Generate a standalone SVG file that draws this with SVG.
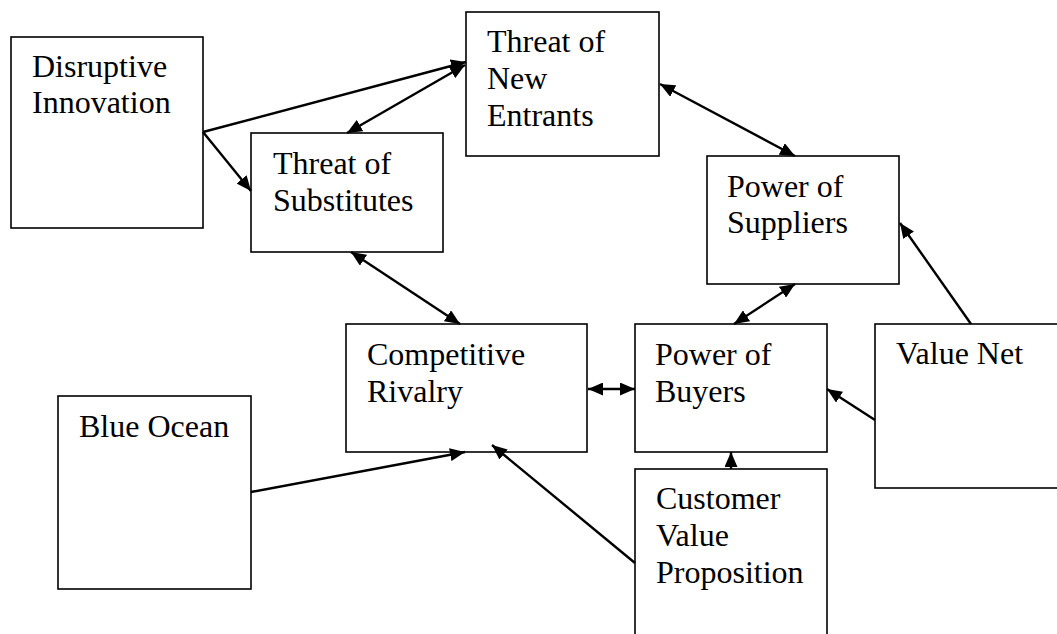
<svg xmlns="http://www.w3.org/2000/svg" width="1057" height="634" viewBox="0 0 1057 634">
<style>
.box{fill:#fff;stroke:#000;stroke-width:1.6}
.lbl{font-family:"Liberation Serif","Times New Roman",serif;font-size:32px;fill:#000}
.con{stroke:#000;stroke-width:2.4;fill:none}
.one{marker-end:url(#ah)}
.two{marker-end:url(#ah);marker-start:url(#ah)}
</style>
<defs>
<marker id="ah" markerUnits="userSpaceOnUse" markerWidth="15" markerHeight="13" refX="15" refY="6.5" orient="auto-start-reverse">
<path d="M0,0 L15,6.5 L0,13 z" fill="#000"/>
</marker>
</defs>
<rect width="1057" height="634" fill="#fff"/>
<g id="disruptive-innovation">
<rect class="box" x="11" y="37" width="192" height="191"/>
<text class="lbl" x="32" y="77">Disruptive</text>
<text class="lbl" x="32" y="113">Innovation</text>
</g>
<g id="threat-of-substitutes">
<rect class="box" x="251" y="133" width="192" height="119"/>
<text class="lbl" x="273" y="174">Threat of</text>
<text class="lbl" x="273" y="211">Substitutes</text>
</g>
<g id="threat-of-new-entrants">
<rect class="box" x="466" y="12" width="193" height="144"/>
<text class="lbl" x="487" y="52">Threat of</text>
<text class="lbl" x="487" y="89">New</text>
<text class="lbl" x="487" y="126">Entrants</text>
</g>
<g id="power-of-suppliers">
<rect class="box" x="707" y="156" width="192" height="128"/>
<text class="lbl" x="727" y="197">Power of</text>
<text class="lbl" x="727" y="233">Suppliers</text>
</g>
<g id="competitive-rivalry">
<rect class="box" x="346" y="324" width="241" height="128"/>
<text class="lbl" x="367" y="365">Competitive</text>
<text class="lbl" x="367" y="402">Rivalry</text>
</g>
<g id="power-of-buyers">
<rect class="box" x="635" y="324" width="192" height="128"/>
<text class="lbl" x="655" y="365">Power of</text>
<text class="lbl" x="655" y="402">Buyers</text>
</g>
<g id="blue-ocean">
<rect class="box" x="58" y="396" width="193" height="193"/>
<text class="lbl" x="79" y="437">Blue Ocean</text>
</g>
<g id="customer-value-proposition">
<rect class="box" x="635" y="469" width="192" height="180"/>
<text class="lbl" x="656" y="509">Customer</text>
<text class="lbl" x="656" y="546">Value</text>
<text class="lbl" x="656" y="583">Proposition</text>
</g>
<g id="value-net">
<rect class="box" x="875" y="324" width="200" height="164"/>
<text class="lbl" x="896" y="364">Value Net</text>
</g>
<g id="connectors">
<line class="con one" x1="203" y1="132" x2="466" y2="62"/>
<line class="con one" x1="203" y1="132" x2="251" y2="191"/>
<line class="con two" x1="347" y1="133" x2="465" y2="65"/>
<line class="con two" x1="660" y1="84" x2="795" y2="156"/>
<line class="con two" x1="795" y1="284" x2="734" y2="324"/>
<line class="con one" x1="971" y1="324" x2="900" y2="223"/>
<line class="con two" x1="351" y1="252" x2="460" y2="324"/>
<line class="con two" x1="588" y1="389" x2="635" y2="389"/>
<line class="con one" x1="251" y1="492" x2="465" y2="452"/>
<line class="con one" x1="635" y1="563" x2="492" y2="445"/>
<line class="con one" x1="731" y1="469" x2="731" y2="452"/>
<line class="con one" x1="875" y1="420" x2="827" y2="389"/>
</g>
</svg>
